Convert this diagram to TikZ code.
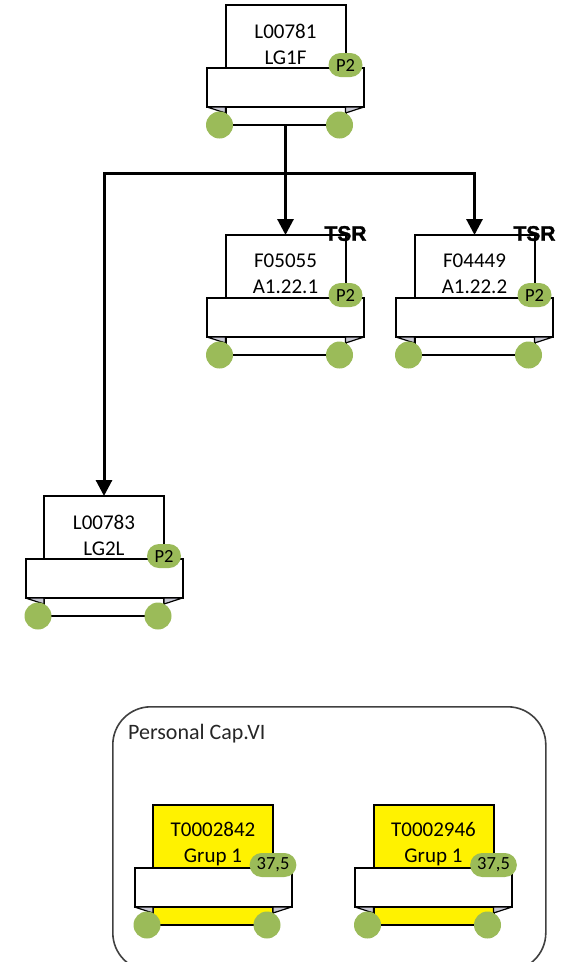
\documentclass[tikz,border=0pt]{standalone}
\usepackage{fontspec}
\setmainfont{Carlito}
\newfontfamily\tsrfont[BoldFeatures={FakeBold=1.5}]{Liberation Sans}
\usetikzlibrary{arrows.meta,positioning,calc}

\definecolor{padgreen}{HTML}{9BBB59}
\definecolor{foldgray}{HTML}{CACAD6}
\definecolor{panelgray}{HTML}{404040}

% one card: sheet, band, folds, wheels, badge, text
\newcommand{\unitcard}[6][white]{%
    \node[sheet, fill=#1, anchor=north] (#2) at (#3) {};
    \node[band, anchor=north] (#2-band) at ([yshift=-63pt]#2.north) {};
    \filldraw[fold] (#2-band.south west) -- (#2-band.south west -| #2.west) -- ($(#2-band.south west -| #2.west)+(0,6)$) -- cycle;
    \filldraw[fold] (#2-band.south east) -- (#2-band.south east -| #2.east) -- ($(#2-band.south east -| #2.east)+(0,6)$) -- cycle;
    \node[wheel] (#2-wl) at ([xshift=-6pt]#2.south west) {};
    \node[wheel] (#2-wr) at ([xshift=-6pt]#2.south east) {};
    \node[badge] (#2-tag) at ([yshift=-60pt]#2.north east) {#6};
    \node[cardtext] (#2-txt) at ([yshift=-39pt]#2.north) {#4\\#5};
}

\begin{document}
\begin{tikzpicture}[
    x=1pt, y=-1pt,
    sheet/.style={draw, line width=2pt, minimum width=120pt, minimum height=120pt, inner sep=0pt, outer sep=0pt},
    band/.style={draw, fill=white, line width=2pt, minimum width=157pt, minimum height=39pt, inner sep=0pt, outer sep=0pt},
    fold/.style={fill=foldgray, draw=black, line width=1.2pt, line join=round},
    wheel/.style={circle, fill=padgreen, minimum size=27pt, inner sep=0pt},
    badge/.style={fill=padgreen, rounded corners=12pt, minimum height=24pt, minimum width=34pt, inner xsep=7pt, inner ysep=0pt, font=\fontsize{18.5}{20}\selectfont},
    cardtext/.style={align=center, font=\fontsize{21}{26}\selectfont, inner sep=0pt},
    tsr/.style={font=\tsrfont\bfseries\fontsize{21}{21}\selectfont, inner sep=0pt},
    link/.style={line width=3pt},
    arrow/.style={link, -{Triangle[length=16pt, width=16pt]}},
    panel/.style={draw=panelgray, line width=1.6pt, rounded corners=38pt, minimum width=433pt, minimum height=264pt, inner sep=0pt},
]
    \useasboundingbox (0,0) rectangle (573,962);

    % Panel
    \begin{scope}
        \clip (0,0) rectangle (573,962);
        \node[panel, anchor=north west] (cap) at (112,706) {};
    \end{scope}
    \node[anchor=west, inner sep=0pt, text=black!85, font=\fontsize{22}{24}\selectfont] (captitle) at (128,734) {Personal Cap.VI};

    % Cards
    \unitcard{l00781}{285.5,5}{L00781}{LG1F}{P2}
    \unitcard{f05055}{285.5,235}{F05055}{A1.22.1}{P2}
    \unitcard{f04449}{474.5,235}{F04449}{A1.22.2}{P2}
    \unitcard{l00783}{104,496}{L00783}{LG2L}{P2}
    \unitcard[yellow]{t0002842}{213,805}{T0002842}{Grup 1}{37,5}
    \unitcard[yellow]{t0002946}{433.5,805}{T0002946}{Grup 1}{37,5}

    % TSR marks
    \node[tsr] (f05055-tsr) at ([yshift=1.5pt]f05055.north east) {TSR};
    \node[tsr] (f04449-tsr) at ([yshift=1.5pt]f04449.north east) {TSR};

    % Arrows
    \coordinate (split) at (285.5,173);
    \draw[link] (l00781.south) -- (split);
    \draw[arrow] (split) -- (f05055.north);
    \draw[arrow] (split) -| (f04449.north);
    \draw[arrow] (split) -| (l00783.north);
\end{tikzpicture}
\end{document}
